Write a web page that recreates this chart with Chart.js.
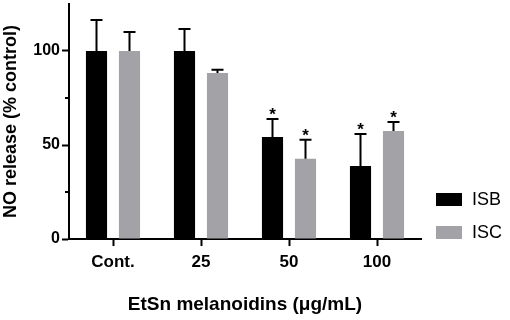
<!DOCTYPE html>
<html>
<head>
<meta charset="utf-8">
<script src="https://cdn.jsdelivr.net/npm/chart.js@4"></script>
<style>
  html, body { margin: 0; padding: 0; background: #fff; }
  .wrap { width: 510px; height: 320px; position: relative; }
</style>
</head>
<body>
<div class="wrap"><canvas id="myChart"></canvas></div>
<script>
const categories = ['Cont.', '25', '50', '100'];
const isbValues = [100, 100, 54.3, 38.8];
const iscValues = [100, 88.3, 42.7, 57.4];
const isbErrors = [16.5, 11.7, 9.5, 17.1];
const iscErrors = [10.1, 1.7, 10.1, 4.8];
const isbStars = ['', '', '*', '*'];
const iscStars = ['', '', '*', '*'];
const yTicks = [0, 50, 100];
const yMinorTicks = [25, 75];

const errorBars = {
    id: 'errorBars',
    afterDatasetsDraw(chart) {
        const { ctx } = chart;
        const yScale = chart.scales.y;
        const errs = [isbErrors, iscErrors];
        const stars = [isbStars, iscStars];
        ctx.save();
        ctx.strokeStyle = '#000';
        ctx.fillStyle = '#000';
        ctx.lineWidth = 2;
        chart.data.datasets.forEach((ds, di) => {
            const meta = chart.getDatasetMeta(di);
            meta.data.forEach((bar, i) => {
                const top = yScale.getPixelForValue(ds.data[i] + errs[di][i]);
                ctx.beginPath();
                ctx.moveTo(bar.x, bar.y);
                ctx.lineTo(bar.x, top);
                ctx.moveTo(bar.x - 6, top);
                ctx.lineTo(bar.x + 6, top);
                ctx.stroke();
                if (stars[di][i]) {
                    ctx.font = 'bold 17px "Liberation Sans", Arial, sans-serif';
                    ctx.textAlign = 'center';
                    ctx.textBaseline = 'alphabetic';
                    ctx.fillText(stars[di][i], bar.x, top + 1);
                }
            });
        });

        // minor ticks on y
        const left = chart.chartArea.left;
        yMinorTicks.forEach(v => {
            const y = yScale.getPixelForValue(v);
            ctx.beginPath();
            ctx.moveTo(left - 4, y);
            ctx.lineTo(left, y);
            ctx.stroke();
        });

        // legend
        ctx.font = '18px "Liberation Sans", Arial, sans-serif';
        ctx.textAlign = 'left';
        ctx.textBaseline = 'middle';
        chart.data.datasets.forEach((ds, di) => {
            const y = 193 + di * 33;
            ctx.fillStyle = ds.backgroundColor;
            ctx.fillRect(436, y, 26, 13);
            ctx.fillStyle = '#000';
            ctx.fillText(ds.label, 472, y + 7);
        });
        ctx.restore();
    }
};

const ctx = document.getElementById('myChart').getContext('2d');
new Chart(ctx, {
    type: 'bar',
    data: {
        labels: categories,
        datasets: [
            {
                label: 'ISB',
                data: isbValues,
                backgroundColor: '#000000',
                categoryPercentage: 0.75,
                barPercentage: 0.64,
            },
            {
                label: 'ISC',
                data: iscValues,
                backgroundColor: '#a3a2a7',
                categoryPercentage: 0.75,
                barPercentage: 0.64,
            },
        ],
    },
    options: {
        responsive: true,
        maintainAspectRatio: false,
        animation: false,
        layout: {
            padding: { left: 0, top: 4, right: 89, bottom: 0 }
        },
        plugins: {
            legend: { display: false },
            tooltip: { enabled: false },
        },
        scales: {
            x: {
                offset: true,
                afterFit: (s) => { s.height = 81; s.paddingLeft = 0; s.paddingRight = 0; },
                grid: {
                    display: true,
                    drawOnChartArea: false,
                    offset: false,
                    tickLength: 7,
                    tickWidth: 2,
                    tickColor: '#000',
                },
                border: { display: true, color: '#000', width: 2 },
                ticks: {
                    color: '#000',
                    padding: 6,
                    font: { family: '"Liberation Sans", Arial, sans-serif', size: 17, weight: 'bold' },
                },
                title: {
                    display: true,
                    text: 'EtSn melanoidins (μg/mL)',
                    color: '#000',
                    font: { family: '"Liberation Sans", Arial, sans-serif', size: 19, weight: 'bold' },
                    padding: { top: 18 },
                },
            },
            y: {
                min: 0,
                max: 125,
                afterFit: (s) => { s.width = 69; s.paddingTop = 0; s.paddingBottom = 0; },
                afterBuildTicks: (s) => { s.ticks = yTicks.map(v => ({ value: v })); },
                grid: {
                    display: true,
                    drawOnChartArea: false,
                    tickLength: 7,
                    tickWidth: 2,
                    tickColor: '#000',
                },
                border: { display: true, color: '#000', width: 2 },
                ticks: {
                    color: '#000',
                    padding: 2,
                    font: { family: '"Liberation Sans", Arial, sans-serif', size: 16, weight: 'bold' },
                },
                title: {
                    display: true,
                    text: 'NO release (% control)',
                    color: '#000',
                    font: { family: '"Liberation Sans", Arial, sans-serif', size: 18, weight: 'bold' },
                    padding: { top: 0, bottom: 6 },
                },
            },
        },
    },
    plugins: [errorBars],
});
</script>
</body>
</html>
